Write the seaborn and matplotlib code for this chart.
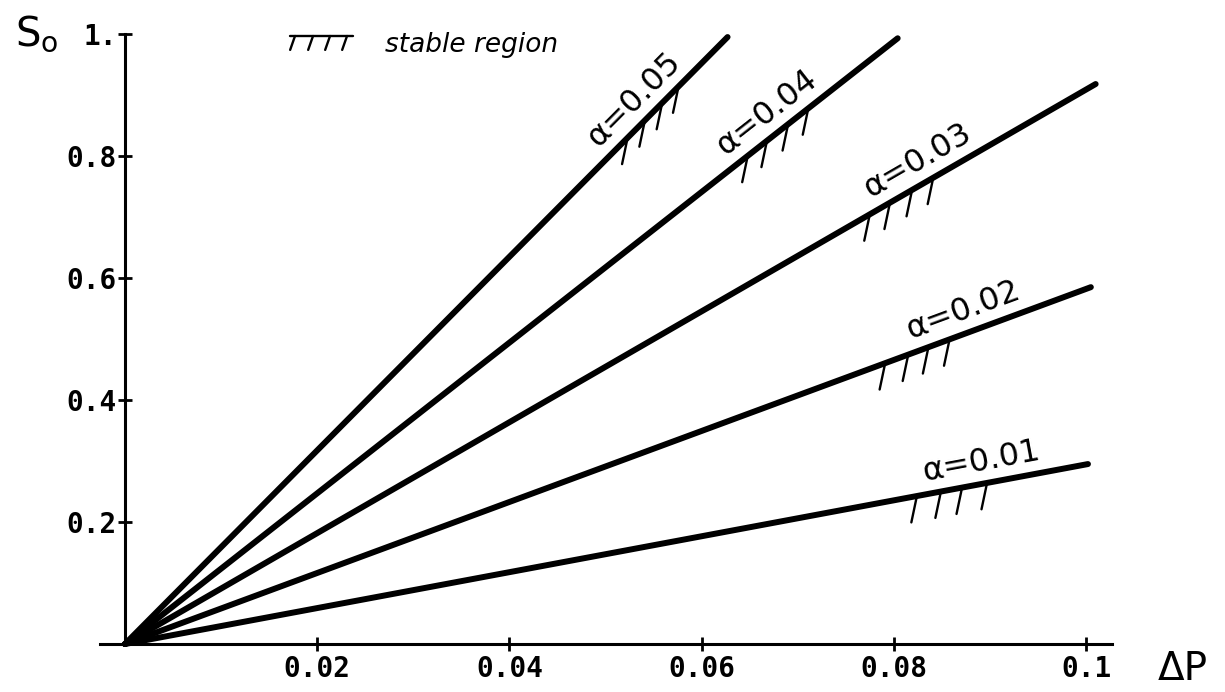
import numpy as np
import pandas as pd
import matplotlib
matplotlib.use("Agg")
import matplotlib.pyplot as plt
import seaborn as sns

# Stability boundaries S0(ΔP) for several values of alpha (straight lines from the origin)
alpha_values = [0.05, 0.04, 0.03, 0.02, 0.01]
alpha_labels = ["α=0.05", "α=0.04", "α=0.03", "α=0.02", "α=0.01"]
dp_end = [0.0627, 0.0804, 0.1010, 0.1005, 0.1002]
s0_end = [0.995, 0.993, 0.918, 0.585, 0.295]

# where each label sits along its line (ΔP)
label_dp = [0.0546, 0.0682, 0.0836, 0.0880, 0.0895]
# where the short hatch strokes (stable side) hang from each line (ΔP)
hatch_dp = [
    [0.0523, 0.0541, 0.0559, 0.0576],
    [0.0648, 0.0668, 0.0690, 0.0711],
    [0.0775, 0.0796, 0.0819, 0.0841],
    [0.0791, 0.0815, 0.0836, 0.0858],
    [0.0824, 0.0849, 0.0871, 0.0897],
]

xticks = [0.02, 0.04, 0.06, 0.08, 0.1]
xtick_labels = ["0.02", "0.04", "0.06", "0.08", "0.1"]
yticks = [0.2, 0.4, 0.6, 0.8, 1.0]
ytick_labels = ["0.2", "0.4", "0.6", "0.8", "1."]

rows = []
for a, xe, ye in zip(alpha_values, dp_end, s0_end):
    rows.append({"alpha": a, "dP": 0.0, "S0": 0.0})
    rows.append({"alpha": a, "dP": xe, "S0": ye})
df = pd.DataFrame(rows)

sns.set_theme(style="white")
plt.rcParams["font.family"] = ["DejaVu Sans"]

fig = plt.figure(figsize=(12.25, 6.92), dpi=100)
ax = fig.add_axes([0.08163, 0.06936, 0.82612, 0.88150])
ax.set_xlim(-0.0026, 0.1027)
ax.set_ylim(0.0, 1.0)

sns.lineplot(data=df, x="dP", y="S0", hue="alpha", units="alpha",
             estimator=None, sort=False,
             palette={a: "black" for a in alpha_values},
             linewidth=4.3, legend=False, ax=ax)
for ln in ax.lines:
    ln.set_clip_on(False)
    ln.set_solid_capstyle("round")

# axes: left spine through ΔP = 0, bottom spine at S0 = 0
for side in ("top", "right"):
    ax.spines[side].set_visible(False)
ax.spines["left"].set_position(("data", 0.0))
for side in ("left", "bottom"):
    ax.spines[side].set_linewidth(2.2)
    ax.spines[side].set_color("black")

ax.set_xticks(xticks)
ax.set_xticklabels(xtick_labels)
ax.set_yticks(yticks)
ax.set_yticklabels(ytick_labels)
ax.tick_params(axis="both", direction="inout", length=10, width=2.0,
               color="black", labelcolor="black", bottom=True, left=True)
ax.tick_params(axis="x", pad=3)
ax.tick_params(axis="y", pad=1)
for lab in ax.get_xticklabels() + ax.get_yticklabels():
    lab.set_family("DejaVu Sans Mono")
    lab.set_fontweight("bold")
    lab.set_fontsize(20)
ax.set_xlabel("")
ax.set_ylabel("")

# line labels and hatch strokes
fig.canvas.draw()
for lab, xe, ye, xl, hx in zip(alpha_labels, dp_end, s0_end, label_dp, hatch_dp):
    slope = ye / xe
    p0 = ax.transData.transform((0.0, 0.0))
    p1 = ax.transData.transform((xe, ye))
    ang = np.arctan2(p1[1] - p0[1], p1[0] - p0[0])
    off = 5.0
    ax.annotate(lab, xy=(xl, slope * xl),
                xytext=(-np.sin(ang) * off, np.cos(ang) * off),
                textcoords="offset points", rotation=np.degrees(ang),
                rotation_mode="anchor", ha="center", va="bottom",
                fontsize=23, color="black", annotation_clip=False)
    for x in hx:
        ax.annotate("", xy=(x, slope * x), xytext=(-4, -19),
                    textcoords="offset points", annotation_clip=False,
                    arrowprops=dict(arrowstyle="-", lw=1.7, color="black",
                                    shrinkA=0, shrinkB=0))

# key for the hatching
key_y = 0.9967
ax.plot([0.1877, 0.2500], [key_y, key_y], color="black", lw=1.7,
        transform=ax.transAxes, clip_on=False)
for kx in [0.1927, 0.2105, 0.2273, 0.2441]:
    ax.annotate("", xy=(kx, key_y), xycoords="axes fraction",
                xytext=(-3.5, -10), textcoords="offset points",
                annotation_clip=False,
                arrowprops=dict(arrowstyle="-", lw=1.7, color="black",
                                shrinkA=0, shrinkB=0))
ax.text(0.2816, 0.9705, "stable region", transform=ax.transAxes,
        fontsize=19, fontstyle="italic", color="black", va="baseline", ha="left")

# axis names
fig.text(15 / 1225, (692 - 45) / 692, r"S$_\mathregular{o}$", fontsize=29,
         color="black", va="baseline", ha="left")
fig.text(1158 / 1225, (692 - 680) / 692, "ΔP", fontsize=28,
         color="black", va="baseline", ha="left")

fig.savefig("out.png", dpi=100, facecolor="white")
